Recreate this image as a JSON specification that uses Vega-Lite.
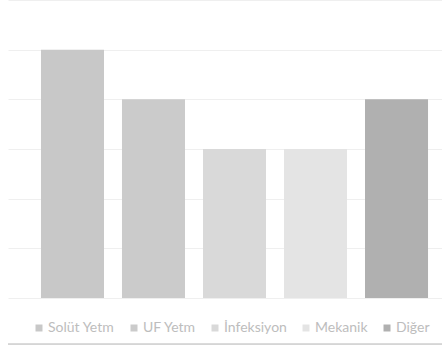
{
  "$schema": "https://vega.github.io/schema/vega-lite/v6.json",
  "autosize": "none",
  "width": 453,
  "height": 298,
  "padding": {"left": 8, "top": 0, "right": 0, "bottom": 49},
  "background": "#ffffff",
  "config": {"view": {"stroke": null}, "font": "Lato"},
  "data": {"values": [
    {"cat": "Solüt Yetm", "value": 5},
    {"cat": "UF Yetm", "value": 4},
    {"cat": "İnfeksiyon", "value": 3},
    {"cat": "Mekanik", "value": 3},
    {"cat": "Diğer", "value": 4}
  ]},
  "layer": [
    {
      "mark": {"type": "bar"},
      "encoding": {
        "x": {"field": "cat", "type": "nominal", "sort": null,
          "scale": {"paddingInner": 0.222, "paddingOuter": 0.407},
          "axis": null},
        "y": {"field": "value", "type": "quantitative",
          "scale": {"domain": [0, 6]},
          "axis": {"values": [0,1,2,3,4,5,6], "grid": true, "gridColor": "#efefef", "gridWidth": 1, "domain": false, "ticks": false, "labels": false, "title": null}},
        "color": {"field": "cat", "type": "nominal", "sort": null,
          "scale": {"domain": ["Solüt Yetm", "UF Yetm", "İnfeksiyon", "Mekanik", "Diğer"], "range": ["#c8c8c8", "#cbcbcb", "#d9d9d9", "#e4e4e4", "#b0b0b0"]},
          "legend": {"orient": "none", "legendX": 24, "legendY": 321, "direction": "horizontal", "title": null,
            "symbolType": "square", "symbolSize": 49, "symbolStrokeWidth": 0, "labelFontSize": 14, "labelColor": "#bdbdbd",
            "columnPadding": 12, "labelOffset": 2}}
      }
    },
    {
      "mark": {"type": "rule", "color": "#d6d6d6", "strokeWidth": 1},
      "encoding": {"y": {"datum": -0.93}}
    }
  ]
}
